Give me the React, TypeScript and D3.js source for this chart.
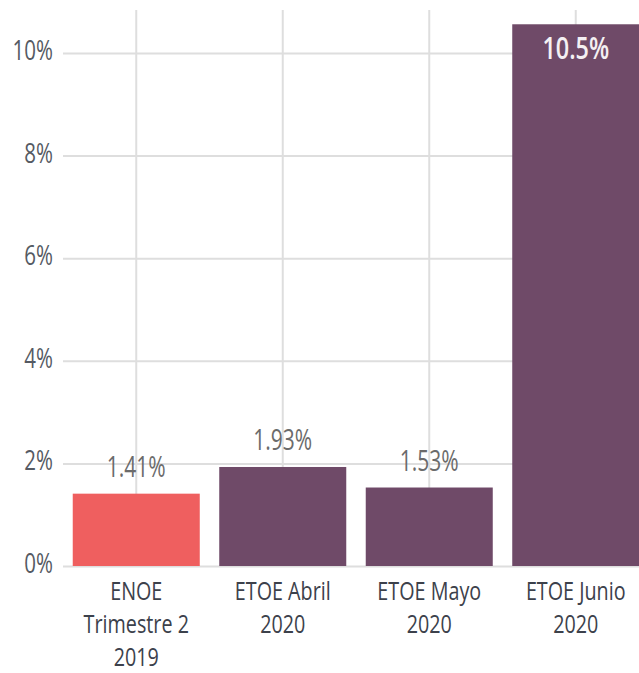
import React, { useEffect, useRef } from 'react';
import * as d3 from 'd3';

// data
const categories = ['ENOE Trimestre 2 2019', 'ETOE Abril 2020', 'ETOE Mayo 2020', 'ETOE Junio 2020'];
const categoryLines = [['ENOE', 'Trimestre 2', '2019'], ['ETOE Abril', '2020'], ['ETOE Mayo', '2020'], ['ETOE Junio', '2020']];
const rates = [1.41, 1.93, 1.53, 10.56];
const rateLabels = ['1.41%', '1.93%', '1.53%', '10.5%'];
const yTicks = [0, 2, 4, 6, 8, 10];

const FONT = '"Open Sans", "Noto Sans", sans-serif';

export default function App() {
    const ref = useRef<SVGSVGElement>(null);

    useEffect(() => {
        const svgWidth = 639, svgHeight = 673;
        const svg = d3.select(ref.current).attr('width', svgWidth).attr('height', svgHeight);
        svg.selectAll('*').remove();

        const left = 63, right = 649, top = 10, bottom = 566;

        const x = d3.scaleBand<string>()
            .domain(categories)
            .range([left, right])
            .paddingInner(0.133)
            .paddingOuter(0.0665);
        const y = d3.scaleLinear().domain([0, 10]).range([bottom, bottom - 513]);
        const cx = (c: string) => x(c)! + x.bandwidth() / 2;

        // vertical grid at category centres
        svg.append('g')
            .selectAll('line')
            .data(categories)
            .join('line')
            .attr('x1', d => cx(d))
            .attr('x2', d => cx(d))
            .attr('y1', top)
            .attr('y2', bottom)
            .attr('stroke', '#dedede')
            .attr('stroke-width', 2);

        // horizontal grid
        const yAxis = d3.axisLeft(y)
            .tickValues(yTicks)
            .tickFormat(() => '')
            .tickSize(-(svgWidth - left));
        const ga = svg.append('g').attr('transform', `translate(${left},0)`).call(yAxis);
        ga.select('.domain').remove();
        ga.selectAll('.tick line').attr('stroke', '#dedede').attr('stroke-width', 2);

        // tick labels (condensed look via horizontal scale)
        svg.append('g')
            .selectAll('text')
            .data(yTicks)
            .join('text')
            .attr('transform', d => `translate(53,${y(d) + 7}) scale(0.76,1)`)
            .attr('text-anchor', 'end')
            .attr('fill', '#555a63')
            .style('font-family', FONT)
            .style('font-size', '27px')
            .text(d => d + '%');

        // bars
        svg.append('g')
            .selectAll('rect')
            .data(rates)
            .join('rect')
            .attr('x', (d, i) => x(categories[i])!)
            .attr('y', d => y(d))
            .attr('width', x.bandwidth())
            .attr('height', d => y(0) - y(d))
            .attr('fill', (d, i) => i === 0 ? '#ef5f5f' : '#6f4a68');

        // value labels
        svg.append('g')
            .selectAll('text')
            .data(rates)
            .join('text')
            .attr('transform', (d, i) => `translate(${cx(categories[i])},${d > 5 ? y(d) + 35 : y(d) - 17}) scale(${d > 5 ? 0.78 : 0.7},1)`)
            .attr('text-anchor', 'middle')
            .attr('fill', d => d > 5 ? '#f4f0f3' : '#6b6b6b')
            .style('font-family', FONT)
            .style('font-size', '30px')
            .style('font-weight', d => d > 5 ? 600 : 400)
            .text((d, i) => rateLabels[i]);

        // category labels
        const cat = svg.append('g')
            .selectAll('text')
            .data(categories)
            .join('text')
            .attr('transform', d => `translate(${cx(d)},600) scale(0.76,1)`)
            .attr('text-anchor', 'middle')
            .attr('fill', '#3c414b')
            .style('font-family', FONT)
            .style('font-size', '26px');
        cat.selectAll('tspan')
            .data((d, i) => categoryLines[i])
            .join('tspan')
            .attr('x', 0)
            .attr('dy', (d, j) => j === 0 ? 0 : 33)
            .text(d => d);
    }, []);

    return (
        <div style={{ position: 'fixed', left: 0, top: 0 }}>
            <svg ref={ref} style={{ display: 'block', background: '#fff' }}></svg>
        </div>
    );
}
